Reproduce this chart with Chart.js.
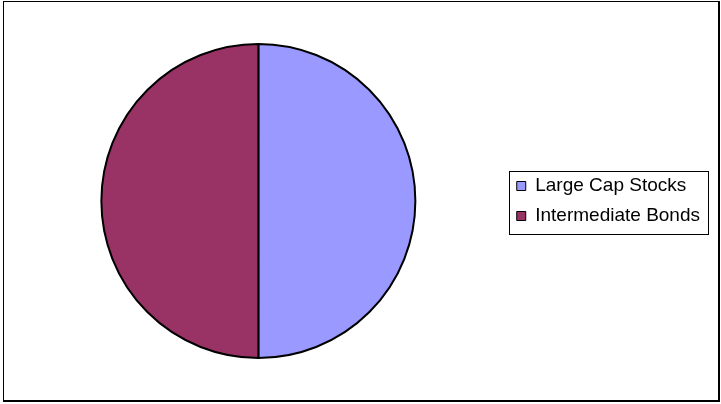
<!DOCTYPE html>
<html>
<head>
<meta charset="utf-8">
<script src="https://cdn.jsdelivr.net/npm/chart.js@4"></script>
<style>
  html, body { margin: 0; padding: 0; background: #fff; }
  #frame {
    position: absolute; left: 3px; top: 1px; width: 717px; height: 401px;
    box-sizing: border-box;
    border-left: 1px solid #000; border-top: 1px solid #000;
    border-right: 2px solid #000; border-bottom: 2px solid #000;
  }
  #wrap { position: absolute; left: 0; top: 0; width: 721px; height: 404px; }
</style>
</head>
<body>
<div id="frame"></div>
<div id="wrap"><canvas id="allocation"></canvas></div>
<script>
const categories = ['Large Cap Stocks', 'Intermediate Bonds'];
const weights = [50, 50];
const sliceColors = ['#9999FF', '#993366'];

// box around the legend, like the old spreadsheet charts
const legendFrame = {
    id: 'legendFrame',
    afterDraw(chart) {
        const legend = chart.legend;
        const boxes = legend.legendHitBoxes;
        if (!boxes || !boxes.length) return;
        const first = boxes[0];
        const last = boxes[boxes.length - 1];
        const ctx = chart.ctx;
        ctx.save();
        ctx.strokeStyle = '#000';
        ctx.lineWidth = 1;
        ctx.strokeRect(Math.round(legend.left + 3) + 0.5, Math.round(first.top - 6) + 0.5,
            Math.round(legend.right - legend.left - 5), Math.round(last.top + last.height - first.top + 14));
        ctx.restore();
    }
};

Chart.defaults.font.family = '"Liberation Sans", Arial, sans-serif';
Chart.defaults.color = '#000';

const ctx = document.getElementById('allocation');
new Chart(ctx, {
    type: 'pie',
    data: {
        labels: categories,
        datasets: [{
            data: weights,
            backgroundColor: sliceColors,
            borderColor: '#000',
            borderWidth: 2
        }]
    },
    options: {
        responsive: true,
        maintainAspectRatio: false,
        animation: false,
        layout: { padding: { left: 11, right: 11, top: 43, bottom: 45 } },
        plugins: {
            tooltip: { enabled: false },
            legend: {
                position: 'right',
                labels: {
                    boxWidth: 9,
                    boxHeight: 9,
                    padding: 11,
                    font: { size: 19 },
                    color: '#000',
                    generateLabels(chart) {
                        return chart.data.labels.map((label, i) => ({
                            text: label,
                            fillStyle: sliceColors[i],
                            strokeStyle: '#000',
                            lineWidth: 1,
                            index: i
                        }));
                    }
                }
            }
        }
    },
    plugins: [legendFrame]
});
</script>
</body>
</html>
